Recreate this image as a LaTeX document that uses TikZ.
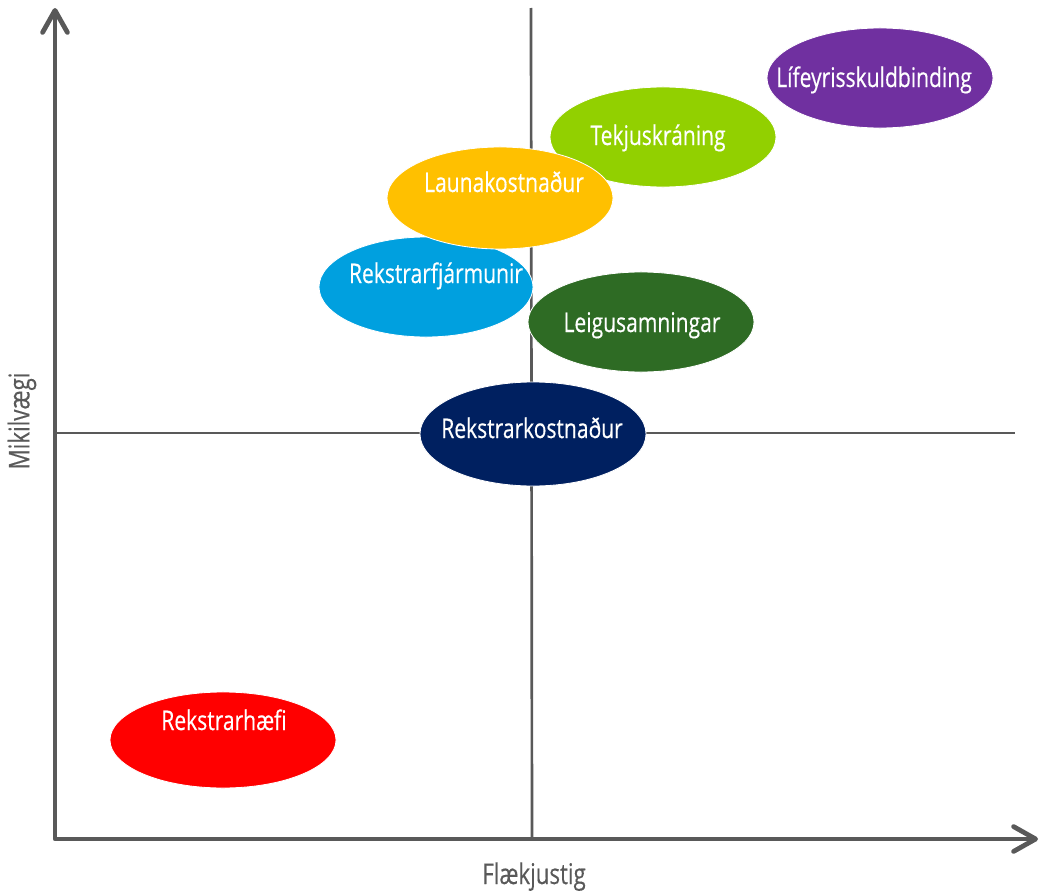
\documentclass[tikz,border=0pt]{standalone}
\usepackage{fontspec}
\setmainfont{Open Sans}[FakeStretch=0.78, FakeBold=0.35]
\usepackage{tikz}
\usetikzlibrary{arrows.meta,shapes.geometric}

\definecolor{axgray}{HTML}{595959}
\definecolor{lifcol}{HTML}{7030A0}
\definecolor{tekcol}{HTML}{92D000}
\definecolor{launcol}{HTML}{FFC000}
\definecolor{fjarcol}{HTML}{00A0DF}
\definecolor{leigcol}{HTML}{2E6B24}
\definecolor{kostcol}{HTML}{002060}
\definecolor{haefcol}{HTML}{FF0000}

\tikzset{
    blob/.style={ellipse, draw=white, line width=0.6pt, inner sep=0pt,
        minimum width=5.65cm, minimum height=2.5cm},
    lbl/.style={text=white, anchor=base, inner sep=0pt,
        font=\fontsize{19.2}{21}\selectfont},
    axis/.style={draw=axgray, line width=3.4pt, line cap=round, line join=round},
    midline/.style={draw=axgray, line width=1.9pt},
    axlbl/.style={text=axgray, inner sep=0pt, font=\fontsize{20.3}{22}\selectfont},
    barb/.tip={Straight Barb[length=0.55cm, width=0.62cm, line cap=round, line join=round]}
}

\begin{document}
\begin{tikzpicture}[x=0.025cm, y=-0.025cm]
    \useasboundingbox (0,0) rectangle (1041,894);
    \begin{scope} % Quadrant lines
        \coordinate (vtop) at (531,8);
        \coordinate (vbot) at (532,839);
        \coordinate (hleft) at (55,433);
        \coordinate (hright) at (1015,433);
        \draw[midline] (vtop) -- (vbot);
        \draw[midline] (hleft) -- (hright);
    \end{scope}
    \begin{scope} % Axes
        \coordinate (ytip) at (55,8);
        \coordinate (origin) at (55,839);
        \coordinate (xtip) at (1038,839);
        \draw[axis, barb-barb] (ytip) -- (origin) -- (xtip);
        \node[axlbl, rotate=90] (ylbl) at (22,421) {Mikilvægi};
        \node[axlbl, anchor=base] (xlbl) at (534,884) {Flækjustig};
    \end{scope}
    \begin{scope} % Ellipses, back to front
        \node[blob, fill=tekcol] (tekju) at (663,137) {};
        \node[lbl] (tekju-t) at (658,145) {Tekjuskráning};
        \node[blob, fill=leigcol] (leigu) at (641,322) {};
        \node[lbl] (leigu-t) at (642,332) {Leigusamningar};
        \node[blob, fill=fjarcol, minimum width=5.35cm] (fjar) at (426,287) {};
        \node[lbl] (fjar-t) at (436,283) {Rekstrarfjármunir};
        \node[blob, fill=launcol, minimum height=2.55cm] (launa) at (500,198) {};
        \node[lbl] (launa-t) at (504,192) {Launakostnaður};
        \node[blob, fill=lifcol] (lif) at (880,78) {};
        \node[lbl] (lif-t) at (874,87) {Lífeyrisskuldbinding};
        \node[blob, fill=kostcol, minimum height=2.6cm] (kostn) at (533,434) {};
        \node[lbl] (kostn-t) at (532,438) {Rekstrarkostnaður};
        \node[blob, fill=haefcol, minimum height=2.4cm] (haefi) at (223,740) {};
        \node[lbl] (haefi-t) at (224,730) {Rekstrarhæfi};
    \end{scope}
\end{tikzpicture}
\end{document}
